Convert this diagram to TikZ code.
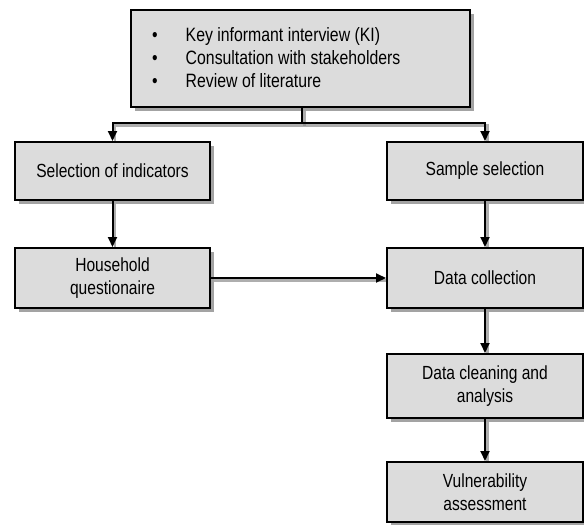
\documentclass[tikz,border=0pt]{standalone}
\usepackage{fontspec}
\setmainfont[FakeStretch=0.82]{Liberation Sans}
\usetikzlibrary{arrows.meta,shadows}
\pgfdeclarelayer{background}
\pgfsetlayers{background,main}
\definecolor{boxfill}{HTML}{DCDCDC}
\definecolor{shade}{HTML}{8C8C8C}
\tikzset{
  box/.style={draw=black, line width=2pt, fill=boxfill, inner sep=0pt,
    align=center, font=\fontsize{19}{23}\selectfont,
    drop shadow={shadow xshift=4pt, shadow yshift=-4pt, fill=shade, opacity=0.8}},
  conn/.style={draw=black, line width=2pt},
  arr/.style={conn, -{Triangle[length=10pt,width=9pt]}},
  connshadow/.style={draw=shade, line width=2.5pt, opacity=0.7, transform canvas={shift={(2.5pt,-2.5pt)}}}
}
\begin{document}
\begin{tikzpicture}[x=1pt,y=-1pt]
\useasboundingbox (0,0) rectangle (584,525);
\node[box, minimum width=339pt, minimum height=97pt] (top) at (300.5,58.5) {};
\node[anchor=west, inner sep=0pt, font=\fontsize{19.3}{23}\selectfont] (toptext) at (152,60)
  {\begin{tabular}{@{}l@{\hspace{28pt}}l@{}}\textbullet & Key informant interview (KI)\\
   \textbullet & Consultation with stakeholders\\ \textbullet & Review of literature\end{tabular}};
\node[box, minimum width=195pt, minimum height=58pt] (sel) at (112.5,171) {Selection of indicators};
\node[box, minimum width=196pt, minimum height=58pt] (sample) at (485,171) {Sample selection};
\node[box, minimum width=195pt, minimum height=60pt] (house) at (112.5,278) {Household\\questionaire};
\node[box, minimum width=196pt, minimum height=60pt] (data) at (485,278) {Data collection};
\node[box, minimum width=196pt, minimum height=64pt] (clean) at (485,386) {Data cleaning and\\analysis};
\node[box, minimum width=196pt, minimum height=60pt] (vuln) at (485,492) {Vulnerability\\assessment};
\coordinate (split) at (302,123);
\begin{pgfonlayer}{background}
  \draw[connshadow] (top.south -| split) -- (split);
  \draw[connshadow] (split) -| (sel.north);
  \draw[connshadow] (split) -| (sample.north);
  \draw[connshadow] (sel.south) -- (house.north);
  \draw[connshadow] (sample.south) -- (data.north);
  \draw[connshadow] (house.east) -- (data.west);
  \draw[connshadow] (data.south) -- (clean.north);
  \draw[connshadow] (clean.south) -- (vuln.north);
\end{pgfonlayer}
\draw[conn] (top.south -| split) -- (split);
\draw[arr] (split) -| (sel.north);
\draw[arr] (split) -| (sample.north);
\draw[arr] (sel.south) -- (house.north);
\draw[arr] (sample.south) -- (data.north);
\draw[arr] (house.east) -- (data.west);
\draw[arr] (data.south) -- (clean.north);
\draw[arr] (clean.south) -- (vuln.north);
\end{tikzpicture}
\end{document}
